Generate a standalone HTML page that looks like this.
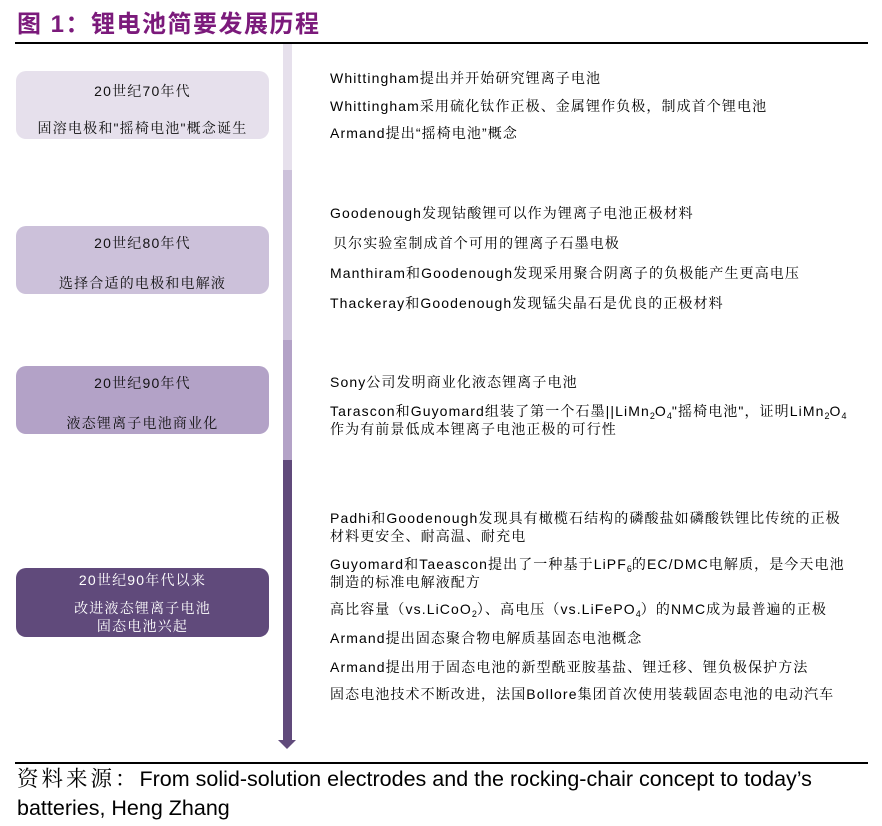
<!DOCTYPE html>
<html><head><meta charset="utf-8"><style>
body{margin:0;width:882px;height:826px;background:#fff;position:relative;overflow:hidden;font-family:"Liberation Sans","Noto Serif CJK SC",serif;}
.t{position:absolute;left:330px;font-size:14px;line-height:18px;color:#000;white-space:nowrap;letter-spacing:1.1px}
.box{position:absolute;left:16px;width:253px;border-radius:10px;text-align:center;font-size:14px;color:#111;letter-spacing:1.2px}
.seg{position:absolute;left:283px;width:9px}
sub{font-size:9px;vertical-align:-3px;line-height:0;letter-spacing:0}
</style></head><body>
<div style="position:absolute;left:17px;top:4px;font-size:24px;font-weight:bold;color:#7b1a7b;letter-spacing:1.5px;font-family:'Liberation Sans','Noto Sans CJK SC',sans-serif">图 1：锂电池简要发展历程</div>
<div style="position:absolute;left:15px;top:42px;width:853px;height:2px;background:#000"></div>
<div class="seg" style="top:44px;height:126px;background:#e6e0ec"></div>
<div class="seg" style="top:170px;height:170px;background:#ccc1da"></div>
<div class="seg" style="top:340px;height:120px;background:#b3a2c7"></div>
<div class="seg" style="top:460px;height:280px;background:#604a7b"></div>
<div style="position:absolute;left:278px;top:740px;width:0;height:0;border-left:9.5px solid transparent;border-right:9.5px solid transparent;border-top:9px solid #604a7b"></div>

<div class="box" style="top:71px;height:68px;background:#e6e0ec"><div style="margin-top:10px">20世纪70年代</div><div style="margin-top:17px">固溶电极和"摇椅电池"概念诞生</div></div>
<div class="box" style="top:226px;height:68px;background:#ccc1da"><div style="margin-top:7px">20世纪80年代</div><div style="margin-top:20px">选择合适的电极和电解液</div></div>
<div class="box" style="top:366px;height:68px;background:#b3a2c7"><div style="margin-top:7px">20世纪90年代</div><div style="margin-top:20px">液态锂离子电池商业化</div></div>
<div class="box" style="top:568px;height:69px;background:#604a7b;color:#fff"><div style="margin-top:2px">20世纪90年代以来</div><div style="margin-top:9px;line-height:18px">改进液态锂离子电池<br>固态电池兴起</div></div>

<div class="t" style="top:69px">Whittingham提出并开始研究锂离子电池</div>
<div class="t" style="top:97px">Whittingham采用硫化钛作正极、金属锂作负极，制成首个锂电池</div>
<div class="t" style="top:124px">Armand提出“摇椅电池”概念</div>
<div class="t" style="top:204px">Goodenough发现钴酸锂可以作为锂离子电池正极材料</div>
<div class="t" style="top:234px;left:333px">贝尔实验室制成首个可用的锂离子石墨电极</div>
<div class="t" style="top:264px">Manthiram和Goodenough发现采用聚合阴离子的负极能产生更高电压</div>
<div class="t" style="top:294px">Thackeray和Goodenough发现锰尖晶石是优良的正极材料</div>
<div class="t" style="top:373px">Sony公司发明商业化液态锂离子电池</div>
<div class="t" style="top:402px">Tarascon和Guyomard组装了第一个石墨||LiMn<sub>2</sub>O<sub>4</sub>"摇椅电池"，证明LiMn<sub>2</sub>O<sub>4</sub><br>作为有前景低成本锂离子电池正极的可行性</div>
<div class="t" style="top:509px">Padhi和Goodenough发现具有橄榄石结构的磷酸盐如磷酸铁锂比传统的正极<br>材料更安全、耐高温、耐充电</div>
<div class="t" style="top:555px">Guyomard和Taeascon提出了一种基于LiPF<sub>6</sub>的EC/DMC电解质，是今天电池<br>制造的标准电解液配方</div>
<div class="t" style="top:600px">高比容量（vs.LiCoO<sub>2</sub>）、高电压（vs.LiFePO<sub>4</sub>）的NMC成为最普遍的正极</div>
<div class="t" style="top:629px">Armand提出固态聚合物电解质基固态电池概念</div>
<div class="t" style="top:658px">Armand提出用于固态电池的新型酰亚胺基盐、锂迁移、锂负极保护方法</div>
<div class="t" style="top:685px">固态电池技术不断改进，法国Bollore集团首次使用装载固态电池的电动汽车</div>

<div style="position:absolute;left:15px;top:762px;width:853px;height:2px;background:#000"></div>
<div style="position:absolute;left:17px;top:765px;font-size:21.5px;line-height:29px;width:830px"><span style="letter-spacing:3px">资料来源：</span>From solid-solution electrodes and the rocking-chair concept to today’s batteries, Heng Zhang</div>
</body></html>
